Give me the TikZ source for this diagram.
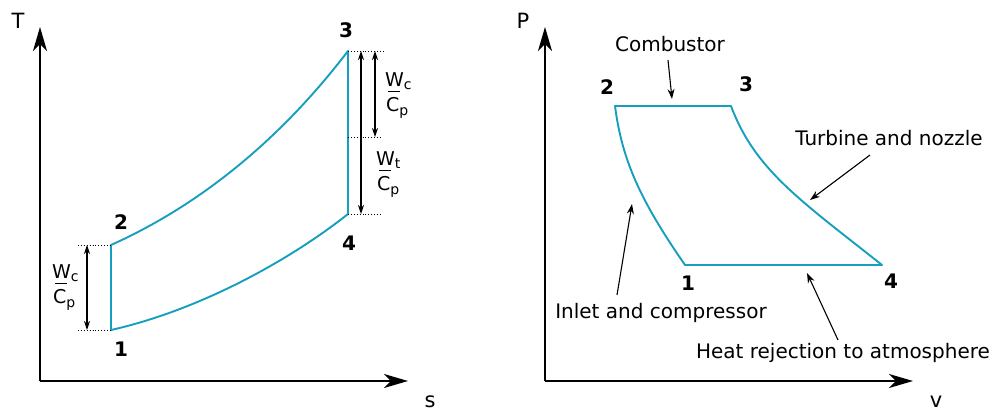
\documentclass[tikz,border=0pt]{standalone}
\usepackage{fontspec}
\setmainfont{DejaVu Sans}
\usetikzlibrary{arrows.meta,calc}
\definecolor{cyc}{RGB}{22,158,190}
\newcommand{\subf}{\fontsize{14}{14}\selectfont}
\newcommand{\wcp}[4]{%
  \node[frac,anchor=base west] (#1w) at (#2,#3) {W\raisebox{-3pt}{\subf #4}};
  \node[frac,anchor=base west] (#1c) at ($(#2,#3)+(1,25)$) {C\raisebox{-4pt}{\subf p}};
  \draw[line width=1.5pt] (#1w.base west) ++(3,4.5) -- ++(12,0);}
\tikzset{
  axis/.style={line width=1.8pt,-{Stealth[length=24pt,width=14pt,inset=7pt]}},
  cycle/.style={cyc,line width=1.9pt,line join=round},
  dim/.style={line width=1.1pt,{Stealth[length=9pt,width=6pt]}-{Stealth[length=9pt,width=6pt]}},
  guide/.style={dotted,line width=0.9pt},
  callout/.style={line width=1.1pt,-{Stealth[length=10pt,width=7pt]}},
  lbl/.style={font=\fontsize{20}{24}\selectfont,inner sep=0pt},
  axlbl/.style={font=\fontsize{21}{24}\selectfont,inner sep=0pt,anchor=base},
  num/.style={font=\fontsize{20}{22}\selectfont\bfseries,inner sep=0pt},
  frac/.style={font=\fontsize{19}{20}\selectfont,inner sep=0pt}
}
\begin{document}
\begin{tikzpicture}[x=1pt,y=-1pt]
\useasboundingbox (0,0) rectangle (995,411);
% ---------- T-s diagram ----------
\coordinate (Ts0) at (40,381);
\coordinate (Tend) at (40,27);
\coordinate (send) at (408,381);
\draw[axis] (Ts0) -- (Tend);
\draw[axis] (Ts0) -- (send);
\node[axlbl] (T) at (18,29) {T};
\node[axlbl] (s) at (430,407.5) {s};
\coordinate (A1) at (111,330);
\coordinate (A2) at (111,245);
\coordinate (A3) at (348,51);
\coordinate (A4) at (348,214);
\draw[cycle] (A1) -- (A2) .. controls (200,205) and (280,140) .. (A3) -- (A4) .. controls (290,260) and (200,310) .. cycle;
\node[num] (n1) at (121,349) {1};
\node[num] (n2) at (121,222) {2};
\node[num] (n3) at (346,30) {3};
\node[num] (n4) at (349,243) {4};
% guides
\coordinate (g2) at (78,245);
\coordinate (g1) at (78,330);
\draw[guide] (g2) -- (A2);
\draw[guide] (g1) -- (A1);
\coordinate (g3) at (383,51);
\coordinate (A34) at (348,137);
\coordinate (g34) at (380,137);
\coordinate (g4) at (381,214);
\draw[guide] (A3) -- (g3);
\draw[guide] (A34) -- (g34);
\draw[guide] (A4) -- (g4);
% dimension arrows
\coordinate (d1a) at (87,245);
\coordinate (d1b) at (87,330);
\draw[dim] (d1a) -- (d1b);
\coordinate (d2a) at (361,51);
\coordinate (d2b) at (361,214);
\draw[dim] (d2a) -- (d2b);
\coordinate (d3a) at (375,51);
\coordinate (d3b) at (375,137);
\draw[dim] (d3a) -- (d3b);
\wcp{fa}{52}{279}{c}
\wcp{fb}{385}{87}{c}
\wcp{fc}{376}{166}{t}
% ---------- P-v diagram ----------
\coordinate (Pv0) at (545,381);
\coordinate (Pend) at (545,27);
\coordinate (vend) at (913,381);
\draw[axis] (Pv0) -- (Pend);
\draw[axis] (Pv0) -- (vend);
\node[axlbl] (P) at (523,29) {P};
\node[axlbl] (v) at (936,407.5) {v};
\coordinate (B1) at (685,265);
\coordinate (B2) at (615,106);
\coordinate (B3) at (731,106);
\coordinate (B4) at (882,265);
\draw[cycle] (B1) .. controls (640,200) and (622,160) .. (B2) -- (B3) .. controls (755,170) and (800,200) .. (B4) -- cycle;
\node[num] (m1) at (688,283) {1};
\node[num] (m2) at (607,87) {2};
\node[num] (m3) at (746,84) {3};
\node[num] (m4) at (891,281) {4};
\node[lbl] (comb) at (670,44) {Combustor};
\node[lbl] (turb) at (889,138) {Turbine and nozzle};
\node[lbl] (inlet) at (661,313) {Inlet and compressor};
\node[lbl] (heat) at (843,353) {Heat rejection to atmosphere};
\coordinate (c1a) at (668,60);
\coordinate (c1b) at (672,99);
\draw[callout] (c1a) -- (c1b);
\coordinate (c2a) at (870,155);
\coordinate (c2b) at (810,200);
\draw[callout] (c2a) -- (c2b);
\coordinate (c3a) at (617,295);
\coordinate (c3b) at (632,204);
\draw[callout] (c3a) -- (c3b);
\coordinate (c4a) at (838,340);
\coordinate (c4b) at (807,273);
\draw[callout] (c4a) -- (c4b);
\end{tikzpicture}
\end{document}
